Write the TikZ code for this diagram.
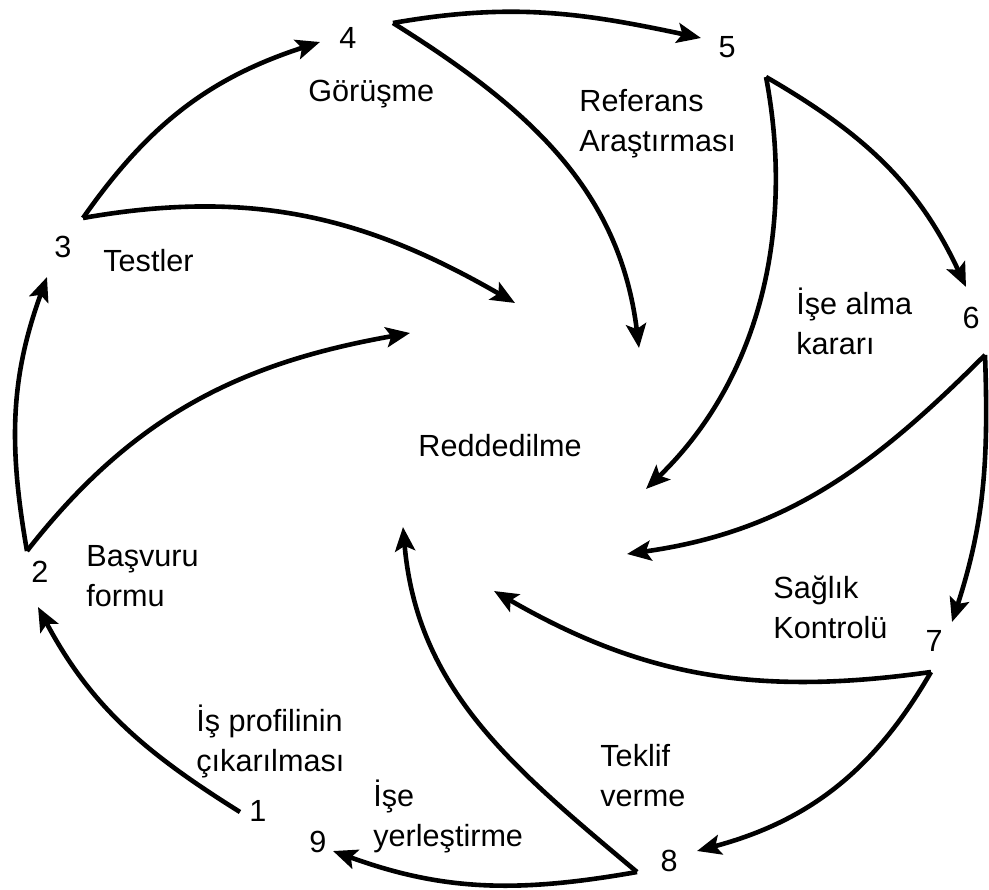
\documentclass[tikz,border=0pt]{standalone}
\usepackage{fontspec}
\setmainfont{Liberation Sans}
\usetikzlibrary{arrows.meta}

\begin{document}
\begin{tikzpicture}[x=0.5pt,y=0.5pt,
    num/.style={inner sep=0pt,font=\fontsize{15.3}{20}\selectfont},
    lbl/.style={inner sep=0pt,align=left,anchor=base west,font=\fontsize{15.3}{20}\selectfont},
    flow/.style={line width=2.3pt,-{Stealth[length=12pt,width=10pt,inset=2.5pt]}}]
  \useasboundingbox (0,0) rectangle (989,889);
  % step numbers
  \node[num] (n1) at (258,78) {1};
  \node[num] (n2) at (40,317) {2};
  \node[num] (n3) at (63,642) {3};
  \node[num] (n4) at (348,851) {4};
  \node[num] (n5) at (727,842) {5};
  \node[num] (n6) at (971,571) {6};
  \node[num] (n7) at (934,248) {7};
  \node[num] (n8) at (669,28) {8};
  \node[num] (n9) at (318,47) {9};
  % step names (base = last line)
  \node[lbl] (profil) at (196,118) {İş profilinin\\çıkarılması};
  \node[lbl] (basvuru) at (86,283) {Başvuru\\formu};
  \node[lbl] (testler) at (103,617) {Testler};
  \node[lbl] (gorusme) at (308,787) {Görüşme};
  \node[lbl] (referans) at (579,737) {Referans\\Araştırması};
  \node[lbl] (karar) at (796,534) {İşe alma\\kararı};
  \node[lbl] (saglik) at (773,251) {Sağlık\\Kontrolü};
  \node[lbl] (teklif) at (600,83) {Teklif\\verme};
  \node[lbl] (yerles) at (373,43) {İşe\\yerleştirme};
  \node[lbl] (red) at (418,432) {Reddedilme};
  % corners where the arrows leave
  \coordinate (p1) at (240,77);
  \coordinate (p2) at (27,338);
  \coordinate (p3) at (83,671);
  \coordinate (p4) at (393,866);
  \coordinate (p5) at (766,812);
  \coordinate (p6) at (985,534);
  \coordinate (p7) at (931,217);
  \coordinate (p8) at (637,17);
  % tips on the ring
  \coordinate (t2) at (38,282);
  \coordinate (t3) at (47,612);
  \coordinate (t4) at (320,847);
  \coordinate (t5) at (701,851);
  \coordinate (t6) at (966,602);
  \coordinate (t7) at (952,267);
  \coordinate (t8) at (697,38);
  \coordinate (t9) at (333,38);
  % tips round Reddedilme
  \coordinate (r2) at (410,556);
  \coordinate (r3) at (515,586);
  \coordinate (r4) at (639,541);
  \coordinate (r5) at (646,400);
  \coordinate (r6) at (627,335);
  \coordinate (r7) at (494,298);
  \coordinate (r8) at (403,362);
  % the ring
  \draw[flow] (p1) to[out=148,in=-62] (t2);
  \draw[flow] (p2) to[out=100,in=250] (t3);
  \draw[flow] (p3) to[out=55,in=198] (t4);
  \draw[flow] (p4) to[out=10,in=168] (t5);
  \draw[flow] (p5) to[out=-30,in=115] (t6);
  \draw[flow] (p6) to[out=-88,in=72] (t7);
  \draw[flow] (p7) to[out=240,in=15] (t8);
  \draw[flow] (p8) to[out=190,in=-20] (t9);
  % rejection
  \draw[flow] (p2) to[out=52,in=190] (r2);
  \draw[flow] (p3) to[out=10,in=150] (r3);
  \draw[flow] (p4) to[out=-32,in=97] (r4);
  \draw[flow] (p5) .. controls (795,660) and (760,510) .. (r5);
  \draw[flow] (p6) to[out=225,in=8] (r6);
  \draw[flow] (p7) to[out=188,in=-30] (r7);
  \draw[flow] (p8) to[out=140,in=-85] (r8);
\end{tikzpicture}
\end{document}
